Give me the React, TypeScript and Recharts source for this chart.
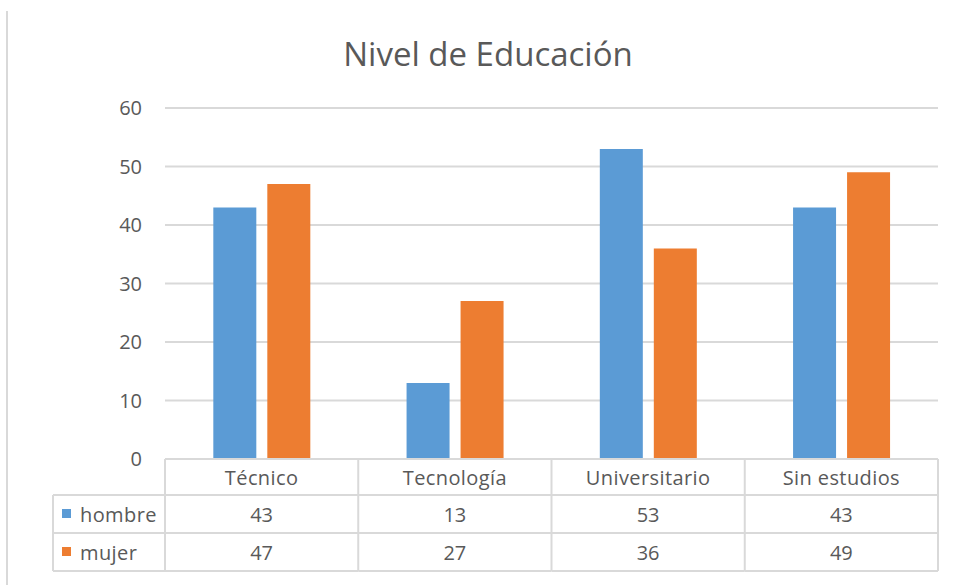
import { BarChart, Bar, XAxis, YAxis, CartesianGrid } from 'recharts';

const categories = ['Técnico', 'Tecnología', 'Universitario', 'Sin estudios'];
const hombre = [43, 13, 53, 43];
const mujer = [47, 27, 36, 49];
const yTicks = [0, 10, 20, 30, 40, 50, 60];

const seriesNames = ['hombre', 'mujer'];
const seriesColors = ['#5B9BD5', '#ED7D31'];

const W = 964;
const H = 585;
const PLOT_LEFT = 165;
const PLOT_RIGHT_MARGIN = 26;
const PLOT_TOP = 108;
const AXIS_H = 126;
const BAND = (W - PLOT_LEFT - PLOT_RIGHT_MARGIN) / categories.length;
const ROW_H = 38;
const HEAD_H = 36;
const LEGEND_LEFT = 53;

const FONT = '"Open Sans", sans-serif';
const FS = 20;
const TEXT = '#595959';
const LINE = '#d9d9d9';

const data = categories.map((c, i) => ({ name: c, hombre: hombre[i], mujer: mujer[i] }));

// draws one column of the data table under each category
function TableTick(props: any) {
  const { x, y, payload } = props;
  const i = payload?.index ?? props.index ?? 0;
  const left = x - BAND / 2;
  const right = x + BAND / 2;
  const rows = [hombre, mujer];
  const bottom = y + HEAD_H + ROW_H * 2;
  return (
    <g>
      <line x1={left} x2={left} y1={y} y2={bottom} stroke={LINE} strokeWidth={2} />
      {i === categories.length - 1 && (
        <line x1={right} x2={right} y1={y} y2={bottom} stroke={LINE} strokeWidth={2} />
      )}
      <line x1={left} x2={right} y1={y + HEAD_H} y2={y + HEAD_H} stroke={LINE} strokeWidth={2} />
      <line x1={left} x2={right} y1={y + HEAD_H + ROW_H} y2={y + HEAD_H + ROW_H} stroke={LINE} strokeWidth={2} />
      <line x1={left} x2={right} y1={bottom} y2={bottom} stroke={LINE} strokeWidth={2} />
      <text x={x} y={y + HEAD_H / 2} textAnchor="middle" dominantBaseline="central"
        fill={TEXT} fontSize={FS} fontFamily={FONT} letterSpacing={0.4}>{payload.value}</text>
      {rows.map((r, k) => (
        <text key={k} x={x} y={y + HEAD_H + ROW_H * k + ROW_H / 2} textAnchor="middle"
          dominantBaseline="central" fill={TEXT} fontSize={FS} fontFamily={FONT}>{r[i]}</text>
      ))}
      {i === 0 && (
        <g>
          <line x1={LEGEND_LEFT} x2={left} y1={y + HEAD_H} y2={y + HEAD_H} stroke={LINE} strokeWidth={2} />
          <line x1={LEGEND_LEFT} x2={left} y1={y + HEAD_H + ROW_H} y2={y + HEAD_H + ROW_H} stroke={LINE} strokeWidth={2} />
          <line x1={LEGEND_LEFT} x2={left} y1={bottom} y2={bottom} stroke={LINE} strokeWidth={2} />
          <line x1={LEGEND_LEFT} x2={LEGEND_LEFT} y1={y + HEAD_H} y2={bottom} stroke={LINE} strokeWidth={2} />
          {seriesNames.map((s, k) => {
            const cy = y + HEAD_H + ROW_H * k + ROW_H / 2;
            return (
              <g key={s}>
                <rect x={62} y={cy - 5} width={9} height={9} fill={seriesColors[k]} />
                <text x={80} y={cy} dominantBaseline="central" fill={TEXT} fontSize={FS}
                  fontFamily={FONT} letterSpacing={0.4}>{s}</text>
              </g>
            );
          })}
        </g>
      )}
    </g>
  );
}

export default function App() {
  return (
    <div style={{ position: 'absolute', left: 0, top: 0, width: W, height: H, background: '#fff' }}>
      <div style={{ position: 'absolute', left: 6, top: 11, width: 2, height: H - 11, background: LINE }} />
      <div style={{
        position: 'absolute', left: 12, top: 34, width: W - 12, textAlign: 'center',
        fontFamily: FONT, fontSize: 33, color: TEXT, lineHeight: '40px',
      }}>
        Nivel de Educación
      </div>
      <BarChart
        width={W}
        height={H}
        data={data}
        margin={{ top: PLOT_TOP, right: PLOT_RIGHT_MARGIN, left: 0, bottom: 0 }}
        barCategoryGap="25%"
        barGap={11}
      >
        <CartesianGrid vertical={false} stroke={LINE} strokeWidth={2} />
        <XAxis
          dataKey="name"
          height={AXIS_H}
          interval={0}
          tickLine={false}
          tickSize={0}
          tickMargin={0}
          axisLine={{ stroke: LINE, strokeWidth: 2 }}
          tick={(p: any) => <TableTick {...p} />}
        />
        <YAxis
          width={PLOT_LEFT}
          domain={[0, 60]}
          ticks={yTicks}
          axisLine={false}
          tickLine={false}
          tickMargin={17}
          tick={{ fill: TEXT, fontSize: FS, fontFamily: FONT }}
        />
        <Bar dataKey="hombre" fill={seriesColors[0]} isAnimationActive={false} />
        <Bar dataKey="mujer" fill={seriesColors[1]} isAnimationActive={false} />
      </BarChart>
    </div>
  );
}
